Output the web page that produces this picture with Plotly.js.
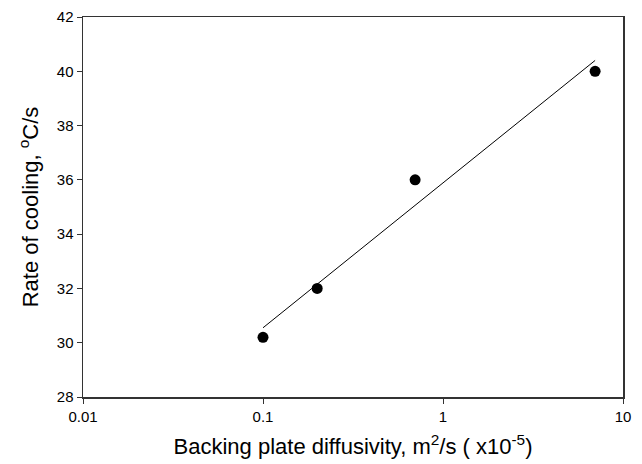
<!DOCTYPE html>
<html><head><meta charset="utf-8">
<script src="https://cdn.plot.ly/plotly-3.0.1.min.js"></script>
<style>html,body{margin:0;padding:0;background:#fff}#c{width:642px;height:464px}</style>
</head><body><div id="c"></div>
<script>
const diffusivity = [0.1, 0.2, 0.7, 7];
const coolingRate = [30.2, 32, 36, 40];
const fitX = [0.1, 7];
const fitY = [30.55, 40.4];
const xTickVals = [0.01, 0.1, 1, 10];
const xTickText = ['0.01', '0.1', '1', '10'];
const yTickVals = [28, 30, 32, 34, 36, 38, 40, 42];

const font = 'Liberation Sans, Arial, sans-serif';
Plotly.newPlot('c', [
  {x: fitX, y: fitY, mode: 'lines', line: {color: '#000', width: 1}, hoverinfo: 'skip'},
  {x: diffusivity, y: coolingRate, mode: 'markers', marker: {color: '#000', size: 11}}
], {
  width: 642, height: 464,
  margin: {l: 83, r: 19, t: 17, b: 67},
  showlegend: false,
  paper_bgcolor: '#fff', plot_bgcolor: '#fff',
  font: {family: font, color: '#000'},
  xaxis: {
    type: 'log', range: [-2, 1],
    tickvals: xTickVals, ticktext: xTickText,
    ticks: 'outside', ticklen: 5, tickwidth: 1, tickcolor: '#333',
    showline: true, linecolor: '#333', linewidth: 1.5, mirror: true,
    showgrid: false, zeroline: false,
    tickfont: {size: 15, family: font},
    title: {text: 'Backing plate diffusivity, m<sup>2</sup>/s ( x10<sup>-5</sup>)', font: {size: 22, family: font}, standoff: 15}
  },
  yaxis: {
    range: [28, 42], tickvals: yTickVals,
    ticks: 'outside', ticklen: 5, tickwidth: 1, tickcolor: '#333',
    showline: true, linecolor: '#333', linewidth: 1.5, mirror: true,
    showgrid: false, zeroline: false,
    tickfont: {size: 15, family: font},
    title: {text: 'Rate of cooling, <sup>o</sup>C/s', font: {size: 22, family: font}, standoff: 12}
  }
}, {staticPlot: true});
</script></body></html>
